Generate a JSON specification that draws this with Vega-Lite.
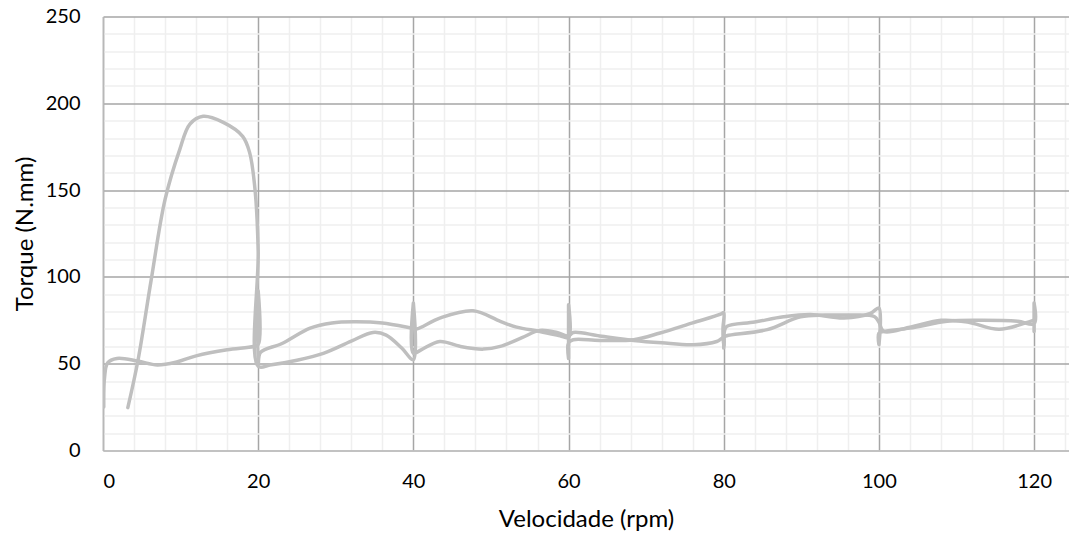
{
  "$schema": "https://vega.github.io/schema/vega-lite/v6.json",
  "width": 966,
  "height": 434,
  "autosize": "none",
  "padding": {"left": 103, "top": 16.5, "right": 0, "bottom": 86.5},
  "background": "white",
  "config": {
    "view": {"stroke": null},
    "font": "Lato",
    "axis": {
      "labelFont": "Lato",
      "titleFont": "Lato",
      "labelColor": "#000000",
      "titleColor": "#000000",
      "titleFontWeight": "normal"
    }
  },
  "data": {
    "values": [
      {"ensaio": "1", "i": 1, "rpm": 3.2, "torque": 24.7},
      {"ensaio": "1", "i": 2, "rpm": 4.5, "torque": 51.7},
      {"ensaio": "1", "i": 3, "rpm": 6.2, "torque": 98},
      {"ensaio": "1", "i": 4, "rpm": 8.0, "torque": 144.6},
      {"ensaio": "1", "i": 5, "rpm": 9.9, "torque": 173.5},
      {"ensaio": "1", "i": 6, "rpm": 11.2, "torque": 188},
      {"ensaio": "1", "i": 7, "rpm": 12.9, "torque": 192.5},
      {"ensaio": "1", "i": 8, "rpm": 15.5, "torque": 189},
      {"ensaio": "1", "i": 9, "rpm": 18.0, "torque": 181},
      {"ensaio": "1", "i": 10, "rpm": 18.9, "torque": 171.6},
      {"ensaio": "1", "i": 11, "rpm": 19.6, "torque": 150},
      {"ensaio": "1", "i": 12, "rpm": 20, "torque": 115},
      {"ensaio": "1", "i": 13, "rpm": 20, "torque": 48.5},
      {"ensaio": "1", "i": 14, "rpm": 21.5, "torque": 49.2},
      {"ensaio": "1", "i": 15, "rpm": 25, "torque": 52},
      {"ensaio": "1", "i": 16, "rpm": 28.4, "torque": 56},
      {"ensaio": "1", "i": 17, "rpm": 32, "torque": 63},
      {"ensaio": "1", "i": 18, "rpm": 34.8, "torque": 68},
      {"ensaio": "1", "i": 19, "rpm": 36.5, "torque": 66.5},
      {"ensaio": "1", "i": 20, "rpm": 38.5, "torque": 59},
      {"ensaio": "1", "i": 21, "rpm": 40, "torque": 52.3},
      {"ensaio": "1", "i": 22, "rpm": 40, "torque": 85},
      {"ensaio": "1", "i": 23, "rpm": 40, "torque": 56},
      {"ensaio": "1", "i": 24, "rpm": 41, "torque": 58},
      {"ensaio": "1", "i": 25, "rpm": 43.4, "torque": 62.8},
      {"ensaio": "1", "i": 26, "rpm": 46, "torque": 60},
      {"ensaio": "1", "i": 27, "rpm": 49, "torque": 58.4},
      {"ensaio": "1", "i": 28, "rpm": 51.2, "torque": 60},
      {"ensaio": "1", "i": 29, "rpm": 54, "torque": 65},
      {"ensaio": "1", "i": 30, "rpm": 56.3, "torque": 69.2},
      {"ensaio": "1", "i": 31, "rpm": 58.5, "torque": 68},
      {"ensaio": "1", "i": 32, "rpm": 60, "torque": 66},
      {"ensaio": "1", "i": 33, "rpm": 60.6, "torque": 68},
      {"ensaio": "1", "i": 34, "rpm": 64, "torque": 66},
      {"ensaio": "1", "i": 35, "rpm": 68.4, "torque": 63.4},
      {"ensaio": "1", "i": 36, "rpm": 72, "torque": 62},
      {"ensaio": "1", "i": 37, "rpm": 76.1, "torque": 60.9},
      {"ensaio": "1", "i": 38, "rpm": 79.1, "torque": 62.8},
      {"ensaio": "1", "i": 39, "rpm": 80, "torque": 65},
      {"ensaio": "1", "i": 40, "rpm": 80, "torque": 59},
      {"ensaio": "1", "i": 41, "rpm": 80.1, "torque": 65.5},
      {"ensaio": "1", "i": 42, "rpm": 80.4, "torque": 66.1},
      {"ensaio": "1", "i": 43, "rpm": 85.6, "torque": 69.6},
      {"ensaio": "1", "i": 44, "rpm": 89.9, "torque": 77},
      {"ensaio": "1", "i": 45, "rpm": 93, "torque": 78},
      {"ensaio": "1", "i": 46, "rpm": 96.3, "torque": 78},
      {"ensaio": "1", "i": 47, "rpm": 99.4, "torque": 77.2},
      {"ensaio": "1", "i": 48, "rpm": 100, "torque": 74},
      {"ensaio": "1", "i": 49, "rpm": 100.6, "torque": 68.6},
      {"ensaio": "1", "i": 50, "rpm": 104, "torque": 71},
      {"ensaio": "1", "i": 51, "rpm": 108, "torque": 75},
      {"ensaio": "1", "i": 52, "rpm": 111.4, "torque": 74},
      {"ensaio": "1", "i": 53, "rpm": 115.5, "torque": 69.8},
      {"ensaio": "1", "i": 54, "rpm": 119.6, "torque": 74.5},
      {"ensaio": "1", "i": 55, "rpm": 120, "torque": 75},
      {"ensaio": "2", "i": 1, "rpm": 0.1, "torque": 25},
      {"ensaio": "2", "i": 2, "rpm": 0.2, "torque": 42},
      {"ensaio": "2", "i": 3, "rpm": 0.6, "torque": 50.5},
      {"ensaio": "2", "i": 4, "rpm": 1.8, "torque": 53},
      {"ensaio": "2", "i": 5, "rpm": 4.5, "torque": 51.5},
      {"ensaio": "2", "i": 6, "rpm": 7, "torque": 49.3},
      {"ensaio": "2", "i": 7, "rpm": 9.5, "torque": 51},
      {"ensaio": "2", "i": 8, "rpm": 12, "torque": 54.5},
      {"ensaio": "2", "i": 9, "rpm": 16, "torque": 58},
      {"ensaio": "2", "i": 10, "rpm": 19.4, "torque": 59.9},
      {"ensaio": "2", "i": 11, "rpm": 20, "torque": 61},
      {"ensaio": "2", "i": 12, "rpm": 20, "torque": 92},
      {"ensaio": "2", "i": 13, "rpm": 20, "torque": 50},
      {"ensaio": "2", "i": 14, "rpm": 20.3, "torque": 56.5},
      {"ensaio": "2", "i": 15, "rpm": 23, "torque": 61.5},
      {"ensaio": "2", "i": 16, "rpm": 26.7, "torque": 70.5},
      {"ensaio": "2", "i": 17, "rpm": 29.5, "torque": 73.5},
      {"ensaio": "2", "i": 18, "rpm": 32.3, "torque": 74.2},
      {"ensaio": "2", "i": 19, "rpm": 36, "torque": 73.5},
      {"ensaio": "2", "i": 20, "rpm": 39.8, "torque": 70.5},
      {"ensaio": "2", "i": 21, "rpm": 40.4, "torque": 70},
      {"ensaio": "2", "i": 22, "rpm": 43.4, "torque": 76.3},
      {"ensaio": "2", "i": 23, "rpm": 47.7, "torque": 80.5},
      {"ensaio": "2", "i": 24, "rpm": 51.2, "torque": 74.4},
      {"ensaio": "2", "i": 25, "rpm": 53.3, "torque": 71.1},
      {"ensaio": "2", "i": 26, "rpm": 56.3, "torque": 68.6},
      {"ensaio": "2", "i": 27, "rpm": 58.9, "torque": 66.1},
      {"ensaio": "2", "i": 28, "rpm": 60, "torque": 65},
      {"ensaio": "2", "i": 29, "rpm": 60, "torque": 84},
      {"ensaio": "2", "i": 30, "rpm": 60, "torque": 53},
      {"ensaio": "2", "i": 31, "rpm": 60, "torque": 62},
      {"ensaio": "2", "i": 32, "rpm": 60.6, "torque": 63.8},
      {"ensaio": "2", "i": 33, "rpm": 64, "torque": 63.4},
      {"ensaio": "2", "i": 34, "rpm": 68.4, "torque": 63.8},
      {"ensaio": "2", "i": 35, "rpm": 71.8, "torque": 67.7},
      {"ensaio": "2", "i": 36, "rpm": 76, "torque": 73.5},
      {"ensaio": "2", "i": 37, "rpm": 79.6, "torque": 78.5},
      {"ensaio": "2", "i": 38, "rpm": 80, "torque": 79.5},
      {"ensaio": "2", "i": 39, "rpm": 79.9, "torque": 70},
      {"ensaio": "2", "i": 40, "rpm": 80, "torque": 60},
      {"ensaio": "2", "i": 41, "rpm": 80.1, "torque": 69},
      {"ensaio": "2", "i": 42, "rpm": 80.4, "torque": 71.5},
      {"ensaio": "2", "i": 43, "rpm": 84, "torque": 74},
      {"ensaio": "2", "i": 44, "rpm": 87.7, "torque": 77},
      {"ensaio": "2", "i": 45, "rpm": 91.2, "torque": 78.3},
      {"ensaio": "2", "i": 46, "rpm": 95.5, "torque": 76.3},
      {"ensaio": "2", "i": 47, "rpm": 98.9, "torque": 79},
      {"ensaio": "2", "i": 48, "rpm": 100, "torque": 82},
      {"ensaio": "2", "i": 49, "rpm": 100, "torque": 61},
      {"ensaio": "2", "i": 50, "rpm": 100, "torque": 67.5},
      {"ensaio": "2", "i": 51, "rpm": 100.6, "torque": 68.6},
      {"ensaio": "2", "i": 52, "rpm": 104, "torque": 70.5},
      {"ensaio": "2", "i": 53, "rpm": 108.8, "torque": 74.4},
      {"ensaio": "2", "i": 54, "rpm": 112.7, "torque": 75},
      {"ensaio": "2", "i": 55, "rpm": 117.9, "torque": 74.4},
      {"ensaio": "2", "i": 56, "rpm": 120, "torque": 73},
      {"ensaio": "2", "i": 57, "rpm": 120, "torque": 85},
      {"ensaio": "2", "i": 58, "rpm": 120, "torque": 68.6},
      {"ensaio": "2", "i": 59, "rpm": 120, "torque": 73.5}
    ]
  },
  "layer": [
    {
      "mark": {"type": "point", "opacity": 0},
      "encoding": {
        "x": {
          "field": "rpm", "type": "quantitative",
          "scale": {"domain": [0, 124.5], "nice": false, "zero": false},
          "axis": {
            "orient": "top", "title": null, "labels": false, "ticks": false, "domain": false,
            "grid": true, "gridColor": "#efefef", "gridWidth": 1.5,
            "values": [4, 8, 12, 16, 24, 28, 32, 36, 44, 48, 52, 56, 64, 68, 72, 76, 84, 88, 92, 96, 104, 108, 112, 116, 124]
          }
        },
        "y": {
          "field": "torque", "type": "quantitative",
          "scale": {"domain": [0, 250], "nice": false},
          "axis": {
            "orient": "right", "title": null, "labels": false, "ticks": false, "domain": false,
            "grid": true, "gridColor": "#efefef", "gridWidth": 1.5,
            "values": [10, 20, 30, 40, 60, 70, 80, 90, 110, 120, 130, 140, 160, 170, 180, 190, 210, 220, 230, 240]
          }
        }
      }
    },
    {
      "mark": {
        "type": "line",
        "interpolate": "catmull-rom",
        "stroke": "#bfbfbf",
        "strokeWidth": 3.5,
        "strokeCap": "round",
        "strokeJoin": "round",
        "clip": true
      },
      "encoding": {
        "x": {
          "field": "rpm", "type": "quantitative",
          "scale": {"domain": [0, 124.5], "nice": false, "zero": false},
          "axis": {
            "orient": "bottom",
            "title": "Velocidade (rpm)",
            "titleFontSize": 24, "titlePadding": 16,
            "labelFontSize": 20, "labelPadding": 21,
            "ticks": false,
            "domain": true, "domainColor": "#c4c4c4", "domainWidth": 1.5,
            "grid": true, "gridColor": "#a6a6a6", "gridWidth": 1.5,
            "values": [0, 20, 40, 60, 80, 100, 120]
          }
        },
        "y": {
          "field": "torque", "type": "quantitative",
          "scale": {"domain": [0, 250], "nice": false},
          "axis": {
            "orient": "left",
            "title": "Torque (N.mm)",
            "titleFontSize": 24, "titlePadding": 8,
            "labelFontSize": 20, "labelPadding": 23,
            "ticks": false,
            "domain": true, "domainColor": "#b8b8b8", "domainWidth": 1.5,
            "grid": true, "gridColor": "#a6a6a6", "gridWidth": 1.5,
            "values": [0, 50, 100, 150, 200, 250]
          }
        },
        "detail": {"field": "ensaio", "type": "nominal"},
        "order": {"field": "i", "type": "quantitative"}
      }
    }
  ],
  "resolve": {"axis": {"x": "independent", "y": "independent"}}
}
